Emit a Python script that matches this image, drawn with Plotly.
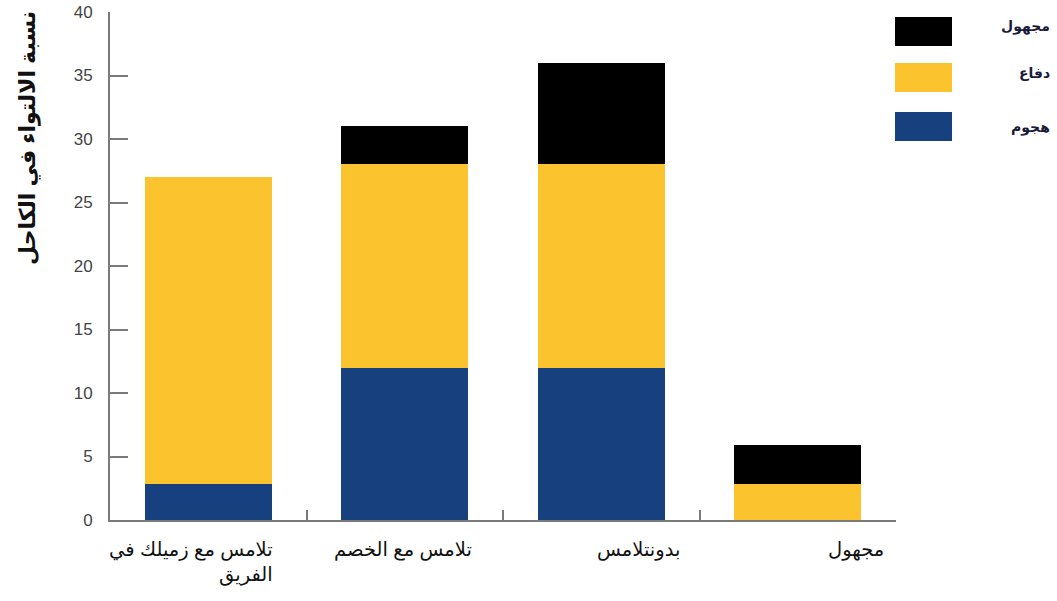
import plotly.graph_objects as go

# Categories (contact type) and stacked shares per segment
categories = ["تلامس مع زميلك في<br>الفريق", "تلامس مع الخصم", "بدونتلامس", "مجهول"]
attack = [2.8, 12, 12, 0]
defense = [24.2, 16, 16, 2.8]
unknown = [0, 3, 8, 3.1]

series_names = ["هجوم", "دفاع", "مجهول"]
series_colors = ["#17407f", "#fbc42e", "#000000"]

y_ticks = [0, 5, 10, 15, 20, 25, 30, 35, 40]

FONT = "Arial, 'Liberation Sans', 'DejaVu Sans', sans-serif"
idx = list(range(len(categories)))

# Plot area in pixels
L, R, T, B = 110, 161, 12, 81
W, H = 1057, 601
pw, ph = W - L - R, H - T - B


def px_x(x):
    return (x - L) / pw


def px_y(y):
    return 1 - (y - T) / ph


fig = go.Figure()
for name, vals, col in zip(series_names, [attack, defense, unknown], series_colors):
    fig.add_trace(go.Bar(
        x=idx, y=vals, name=name, width=0.646,
        marker=dict(color=col, line=dict(width=0)),
        showlegend=False,
    ))

fig.update_layout(
    barmode="stack",
    width=W, height=H,
    margin=dict(l=L, r=R, t=T, b=B),
    plot_bgcolor="white", paper_bgcolor="white",
    font=dict(family=FONT),
    xaxis=dict(
        range=[-0.5, 3.5], tickvals=[-0.5, 0.5, 1.5, 2.5, 3.5], ticktext=[""] * 5,
        ticks="inside", ticklen=10, tickwidth=2, tickcolor="#7a7a7a",
        showline=True, linecolor="#7a7a7a", linewidth=2,
        showgrid=False, zeroline=False, automargin=False,
    ),
    yaxis=dict(
        range=[0, 40], tickvals=y_ticks,
        ticks="inside", ticklen=18, tickwidth=2, tickcolor="#7a7a7a",
        showline=True, linecolor="#7a7a7a", linewidth=2,
        showgrid=False, zeroline=False, automargin=False,
        tickfont=dict(size=17, color="#444444"), ticklabelstandoff=12,
    ),
)

# Category labels under the axis
label_shift = [-17, -2, 37, 58]
for i, (cat, dx) in enumerate(zip(categories, label_shift)):
    fig.add_annotation(
        x=i, y=0, xref="x", yref="y", yanchor="top", yshift=-16, xshift=dx,
        text=cat, showarrow=False, align="right",
        font=dict(size=19.5, color="#111111", family=FONT),
    )

# Vertical axis title
fig.add_annotation(
    x=px_x(28), y=px_y(138), xref="paper", yref="paper",
    xanchor="center", yanchor="middle",
    text="<b>نسبة الالتواء في الكاحل</b>", showarrow=False, textangle=-90,
    font=dict(size=22, color="#111111", family=FONT),
)

# Legend boxes with labels, top to bottom
legend_rows = [("مجهول", "#000000", 17, 46, 27), ("دفاع", "#fbc42e", 63, 92, 73),
               ("هجوم", "#17407f", 112, 141, 127)]
for label, col, top, bot, ty in legend_rows:
    fig.add_shape(
        type="rect", xref="paper", yref="paper",
        x0=px_x(895), x1=px_x(952), y0=px_y(bot), y1=px_y(top),
        fillcolor=col, line=dict(width=0),
    )
    fig.add_annotation(
        x=px_x(1052), y=px_y(ty), xref="paper", yref="paper",
        xanchor="right", yanchor="middle",
        text=f"<b>{label}</b>", showarrow=False,
        font=dict(size=14, color="#1a1a3a", family=FONT),
    )

fig.write_html("out.html")
